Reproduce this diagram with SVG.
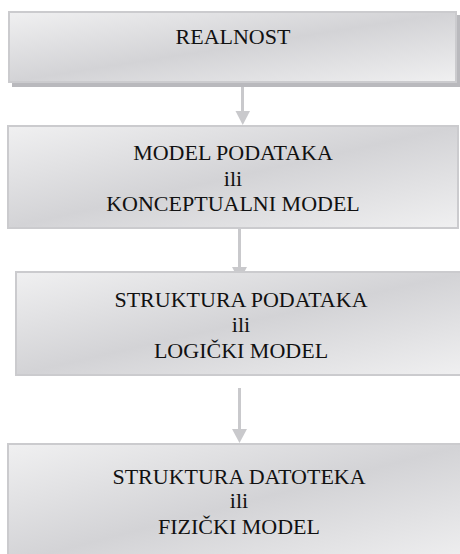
<svg xmlns="http://www.w3.org/2000/svg" width="460" height="554" viewBox="0 0 460 554">
  <defs>
    <linearGradient id="g" x1="0" y1="0" x2="1" y2="1">
      <stop offset="0" stop-color="#f0f0f1"/>
      <stop offset="0.5" stop-color="#d3d3d6"/>
      <stop offset="1" stop-color="#f0f0f1"/>
    </linearGradient>
  </defs>
  <style>
    .box { fill: url(#g); stroke: #cbcbce; stroke-width: 2; }
    .shadow { fill: #b9b9bd; }
    .conn { stroke: #c9c9cc; stroke-width: 3; fill: none; }
    .head { fill: #c9c9cc; }
    text { font-family: "Liberation Serif", "Times New Roman", serif; font-size: 22px; fill: #111; text-anchor: middle; }
  </style>
  <rect width="460" height="554" fill="#ffffff"/>
  <g id="connectors">
    <line class="conn" x1="242.5" y1="86" x2="242.5" y2="112"/>
    <polygon class="head" points="235.5,111 250,111 242.75,125"/>
    <line class="conn" x1="239.5" y1="228" x2="239.5" y2="268"/>
    <polygon class="head" points="232,267 247,267 239.5,281"/>
    <line class="conn" x1="239.5" y1="388" x2="239.5" y2="430"/>
    <polygon class="head" points="232,429 247,429 239.5,443"/>
  </g>
  <g id="realnost">
    <rect class="shadow" x="12" y="15" width="448" height="72"/>
    <rect class="box" x="9" y="12" width="447" height="70"/>
    <text x="233" y="44">REALNOST</text>
  </g>
  <g id="model-podataka">
    <rect class="box" x="8" y="126" width="450" height="102"/>
    <text x="233" y="160">MODEL PODATAKA</text>
    <text x="233" y="186">ili</text>
    <text x="233" y="211">KONCEPTUALNI MODEL</text>
  </g>
  <g id="struktura-podataka">
    <rect class="box" x="16" y="272" width="450" height="103"/>
    <text x="241" y="307">STRUKTURA PODATAKA</text>
    <text x="241" y="332">ili</text>
    <text x="241" y="358">LOGIČKI MODEL</text>
  </g>
  <g id="struktura-datoteka">
    <rect class="box" x="8" y="444" width="460" height="120"/>
    <text x="239" y="484">STRUKTURA DATOTEKA</text>
    <text x="239" y="508">ili</text>
    <text x="239" y="534">FIZIČKI MODEL</text>
  </g>
</svg>
